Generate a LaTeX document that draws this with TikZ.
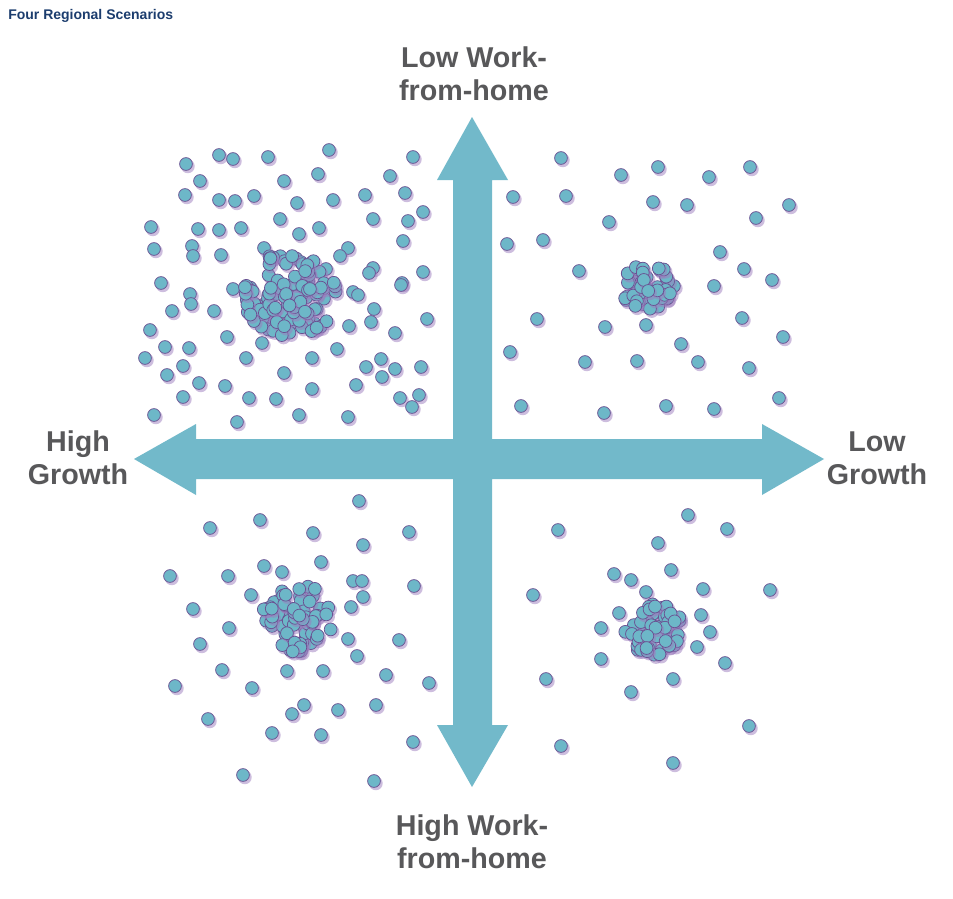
\documentclass[tikz,border=0pt]{standalone}
\usepackage{fontspec}
\setmainfont{Liberation Sans}
\usepackage{xcolor}
\usepackage{tikz}
\usetikzlibrary{positioning}
\definecolor{ink}{HTML}{58585A}
\definecolor{navy}{HTML}{1C3D6E}
\definecolor{armc}{HTML}{72B9CA}
\definecolor{dotf}{HTML}{6DB7C8}
\definecolor{dotl}{HTML}{6A5192}
\definecolor{shad}{HTML}{9C7DBE}

\begin{document}
\begin{tikzpicture}[
  x=0.75pt, y=-0.75pt,
  lbl/.style={font=\bfseries\fontsize{21.5}{24.75}\selectfont, text=ink, align=center},
  ttl/.style={font=\bfseries\fontsize{10.5}{12}\selectfont, text=navy, anchor=west, inner sep=0pt},
  dotc/.style={fill=dotf, draw=dotl, line width=0.55pt},
  dsh/.style={fill=shad, opacity=0.5}
]
  \fill[white] (0,0) rectangle (953,899);
  \useasboundingbox (0,0) rectangle (953,899);

  \node[ttl] (title) at (8,16) {Four Regional Scenarios};

  % scattered dots
  \foreach \x/\y in {186/164,219/155,233/159,268/157,200/181,284/181,185/195,219/200,235/201,254/196,
    297/203,151/227,198/229,219/230,241/228,280/219,154/249,192/246,193/256,221/255,161/283,329/150,
    413/157,318/174,390/176,333/200,365/195,405/193,423/212,373/219,408/221,299/234,319/228,403/241,
    348/248,340/256,373/268,369/273,423/272,402/283,190/294,191/304,172/311,214/311,150/330,227/337,
    165/347,189/348,145/358,246/358,183/366,167/375,284/373,199/383,225/386,183/397,249/398,276/399,
    154/415,237/422,401/285,353/292,358/295,374/309,371/322,427/319,395/333,337/349,312/358,381/359,
    366/367,395/369,421/367,382/377,356/385,312/389,400/398,419/395,412/407,299/415,348/417,
    264/248,233/289,262/343,311/263,326/269,349/326,
    561/158,621/175,658/167,709/177,750/167,513/197,566/196,653/202,687/205,789/205,756/218,609/222,
    507/244,543/240,720/252,579/271,744/269,772/280,714/286,537/319,605/327,646/325,742/318,783/337,
    510/352,681/344,585/362,637/361,698/362,749/368,521/406,604/413,666/406,714/409,779/398,
    359/501,210/528,260/520,313/533,409/532,363/545,321/562,170/576,228/576,264/566,282/572,353/581,
    362/581,414/586,251/595,363/597,193/609,351/607,229/628,348/639,399/640,200/644,357/656,222/670,
    287/671,323/671,386/675,429/683,175/686,252/688,304/705,292/714,338/710,376/705,208/719,272/733,
    321/735,413/742,243/775,374/781,
    688/515,558/530,727/529,658/543,671/570,614/574,631/580,533/595,703/589,770/590,646/592,619/613,
    701/615,601/628,710/632,697/647,601/659,725/663,546/679,673/679,631/692,749/726,561/746,673/763}
  {
    \fill[dsh] (\x+1.8,\y+2.3) circle (5.2pt);
    \filldraw[dotc] (\x,\y) circle (4.8pt);
  }

  % clusters
  \pgfmathsetseed{42}
  \foreach \cx/\cy/\rx/\ry/\n in {290/295/46/44/115, 647/287/28/22/50, 298/618/36/34/75, 654/630/30/26/56}
  {
    \foreach \i in {1,...,\n}
    {
      \pgfmathsetmacro\rr{sqrt(rnd)}
      \pgfmathsetmacro\aa{360*rnd}
      \pgfmathsetmacro\px{\cx+\rx*\rr*cos(\aa)}
      \pgfmathsetmacro\py{\cy+\ry*\rr*sin(\aa)}
      \fill[dsh] (\px+1.8,\py+2.3) circle (5.2pt);
      \filldraw[dotc] (\px,\py) circle (4.8pt);
    }
  }

  % the cross of arrows
  \fill[armc] (453,180) -- (437,180) -- (472,117) -- (508,180) -- (492,180) -- (492,439)
    -- (762,439) -- (762,424) -- (824,459) -- (762,495) -- (762,479) -- (492,479)
    -- (492,725) -- (508,725) -- (472,787) -- (437,725) -- (453,725) -- (453,479)
    -- (196,479) -- (196,495) -- (134,459) -- (196,424) -- (196,439) -- (453,439) -- cycle;

  \node[lbl] (lowwfh) at (474,74) {Low Work-\\from-home};
  \node[lbl] (highwfh) at (472,842) {High Work-\\from-home};
  \node[lbl] (highgr) at (78,458) {High\\Growth};
  \node[lbl] (lowgr) at (877,458) {Low\\Growth};
\end{tikzpicture}
\end{document}
